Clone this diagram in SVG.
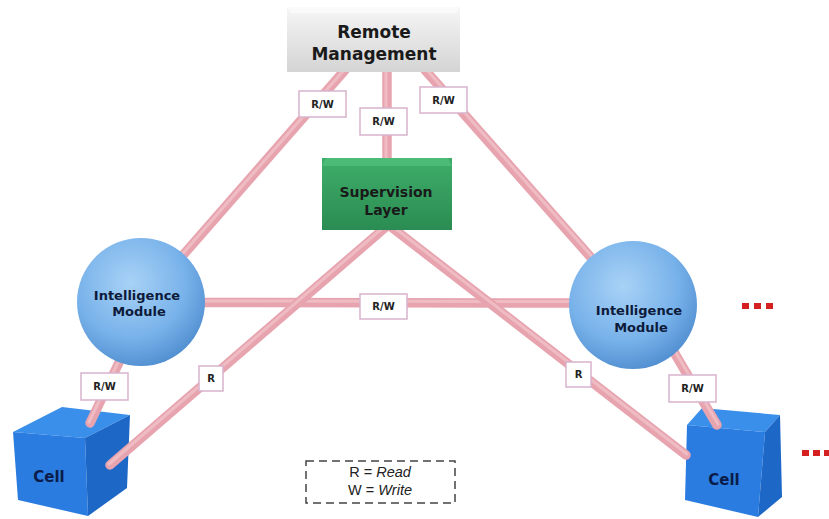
<svg xmlns="http://www.w3.org/2000/svg" width="829" height="519" viewBox="0 0 829 519">
<defs>
<linearGradient id="gGray" x1="0" y1="0" x2="0" y2="1">
<stop offset="0" stop-color="#f6f6f6"/><stop offset="1" stop-color="#d4d4d4"/>
</linearGradient>
<linearGradient id="gGreen" x1="0" y1="0" x2="0" y2="1">
<stop offset="0" stop-color="#3fae6a"/><stop offset="1" stop-color="#2a8c52"/>
</linearGradient>
<radialGradient id="gSphere" cx="0.42" cy="0.35" r="0.72">
<stop offset="0" stop-color="#a8d2f6"/><stop offset="0.6" stop-color="#78b2ea"/><stop offset="1" stop-color="#4a88cc"/>
</radialGradient>
<style>
.pipe{stroke:#e7a4af;stroke-width:9.5;stroke-linecap:round;fill:none}
.hl{stroke:#efbcc4;stroke-width:3;stroke-linecap:round;fill:none}
.lbl{fill:#fff;stroke:#d8b2cc;stroke-width:1.5}
.lt{font-family:"DejaVu Sans",Verdana,sans-serif;font-weight:bold;font-size:10px;fill:#222;text-anchor:middle}
.nt{font-family:"DejaVu Sans",Verdana,sans-serif;font-weight:bold;fill:#1a1a1a;text-anchor:middle}
.mt{font-family:"DejaVu Sans",Verdana,sans-serif;font-weight:bold;font-size:13px;fill:#0d1a3a;text-anchor:middle}
.ct{font-family:"DejaVu Sans",Verdana,sans-serif;font-weight:bold;font-size:15px;fill:#0b1c4a;text-anchor:middle}
.dot{fill:#d42020}
</style>
</defs>
<rect width="829" height="519" fill="#fff"/>

<g id="cell-left">
<polygon points="13,432 62,407 130,415 85,438" fill="#3a8fea"/>
<polygon points="13,432 85,438 88,516 18,500" fill="#2a7ce0"/>
<polygon points="85,438 130,415 127,488 88,516" fill="#1d68c6"/>
<text class="ct" x="49" y="482">Cell</text>
</g>
<g id="cell-right">
<polygon points="687,425 702,408 780,415 765,432" fill="#3a8fea"/>
<polygon points="687,425 765,432 758,517 685,500" fill="#2a7ce0"/>
<polygon points="765,432 780,415 782,497 758,517" fill="#1d68c6"/>
<text class="ct" x="724" y="485">Cell</text>
</g>

<g id="connectors">
<line class="pipe" x1="345" y1="70" x2="142" y2="302"/>
<line class="hl" x1="344" y1="70" x2="141" y2="301"/>
<line class="pipe" x1="387" y1="70" x2="387" y2="165"/>
<line class="hl" x1="386" y1="70" x2="386" y2="165"/>
<line class="pipe" x1="425" y1="70" x2="633" y2="305"/>
<line class="hl" x1="426" y1="69" x2="634" y2="304"/>
<line class="pipe" x1="200" y1="302.5" x2="575" y2="303" stroke-width="10"/>
<line class="hl" x1="200" y1="301" x2="575" y2="301.5"/>
<line class="pipe" x1="387" y1="226" x2="110" y2="465"/>
<line class="hl" x1="386" y1="225" x2="109" y2="464"/>
<line class="pipe" x1="390" y1="226" x2="686" y2="455"/>
<line class="hl" x1="391" y1="225" x2="687" y2="454"/>
<line class="pipe" x1="125" y1="350" x2="90" y2="423"/>
<line class="hl" x1="124" y1="350" x2="89" y2="422"/>
<line class="pipe" x1="668" y1="342" x2="717" y2="425"/>
<line class="hl" x1="669" y1="341" x2="718" y2="424"/>
<g id="labels">
<rect class="lbl" x="299" y="91" width="47" height="26"/><text class="lt" x="322.5" y="107.5">R/W</text>
<rect class="lbl" x="360" y="108" width="47" height="27"/><text class="lt" x="383.5" y="125">R/W</text>
<rect class="lbl" x="420" y="87" width="47" height="26"/><text class="lt" x="443.5" y="103.5">R/W</text>
<rect class="lbl" x="360" y="294" width="47" height="25"/><text class="lt" x="383.5" y="310">R/W</text>
<rect class="lbl" x="199" y="366" width="24" height="25"/><text class="lt" x="211" y="382">R</text>
<rect class="lbl" x="566" y="362" width="25" height="25"/><text class="lt" x="578.5" y="378">R</text>
<rect class="lbl" x="81" y="373" width="47" height="27"/><text class="lt" x="104.5" y="390">R/W</text>
<rect class="lbl" x="669" y="375" width="47" height="27"/><text class="lt" x="692.5" y="392">R/W</text>
</g>
</g>

<g id="remote-management">
<rect x="287" y="7" width="173" height="65" fill="url(#gGray)"/>
<polygon points="287,7 460,7 456,13 291,13" fill="#fafafa"/>
<text class="nt" font-size="17" x="374" y="38">Remote</text>
<text class="nt" font-size="17" x="374" y="60">Management</text>
</g>

<g id="supervision-layer">
<rect x="322" y="158" width="130" height="72" fill="url(#gGreen)"/>
<polygon points="322,166 326,158 448,158 452,166" fill="#4cbb77"/>
<text class="nt" font-size="14" x="386" y="197">Supervision</text>
<text class="nt" font-size="14" x="386" y="215">Layer</text>
</g>

<g id="module-left">
<circle cx="141" cy="302" r="64" fill="url(#gSphere)"/>
<text class="mt" x="137" y="300">Intelligence</text>
<text class="mt" x="139" y="316">Module</text>
</g>
<g id="module-right">
<circle cx="633" cy="305" r="64" fill="url(#gSphere)"/>
<text class="mt" x="639" y="315">Intelligence</text>
<text class="mt" x="641" y="332">Module</text>
</g>

<g id="more-top">
<rect class="dot" x="742" y="303" width="7" height="6"/>
<rect class="dot" x="754" y="303" width="7" height="6"/>
<rect class="dot" x="766" y="303" width="7" height="6"/>
</g>
<g id="more-bottom">
<rect class="dot" x="802" y="450" width="7" height="6"/>
<rect class="dot" x="813" y="450" width="7" height="6"/>
<rect class="dot" x="824" y="450" width="5" height="6"/>
</g>

<g id="legend">
<rect x="306" y="461" width="149" height="42" fill="none" stroke="#444" stroke-width="1.5" stroke-dasharray="8,5"/>
<text font-family="'Liberation Sans',Arial,sans-serif" font-size="14.5" fill="#222" text-anchor="middle" x="380" y="477">R = <tspan font-style="italic">Read</tspan></text>
<text font-family="'Liberation Sans',Arial,sans-serif" font-size="14.5" fill="#222" text-anchor="middle" x="380" y="495">W = <tspan font-style="italic">Write</tspan></text>
</g>
</svg>
